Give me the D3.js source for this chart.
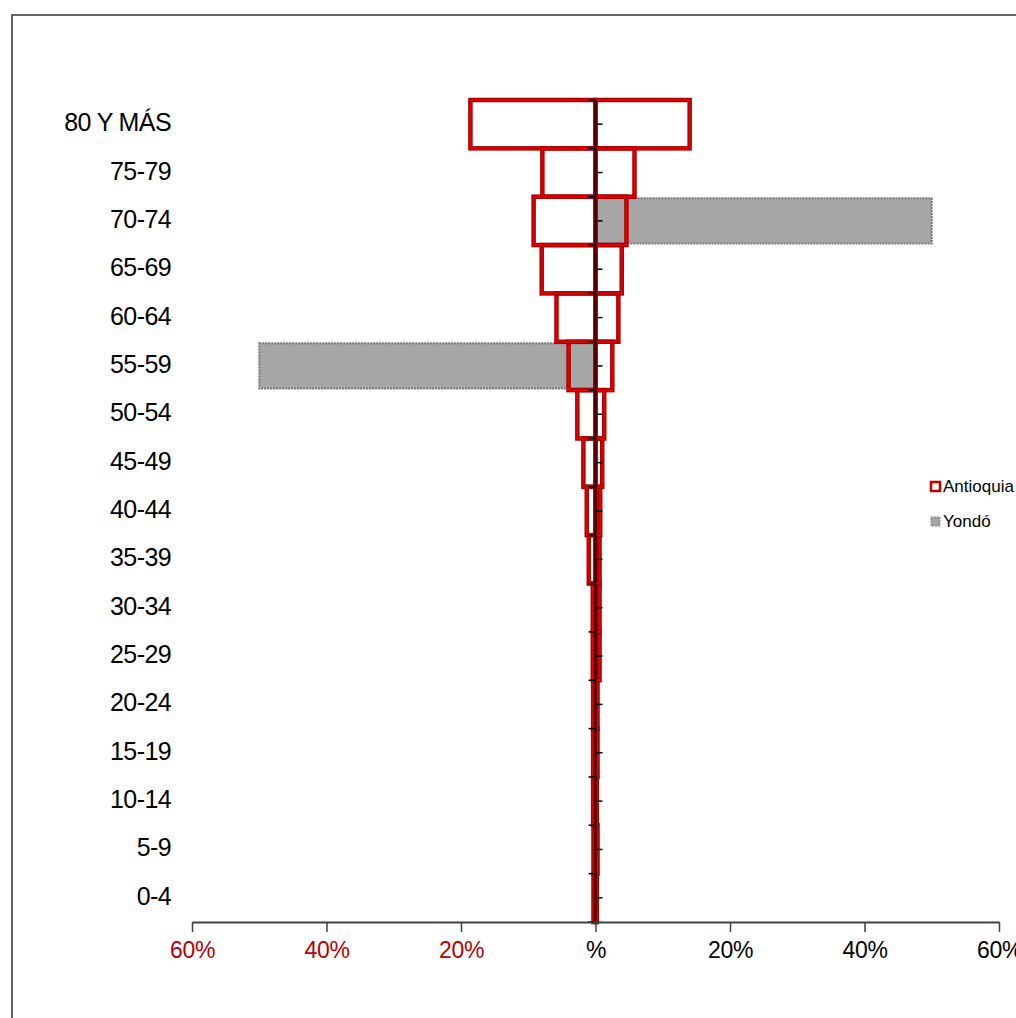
<!DOCTYPE html>
<html>
<head>
<meta charset="utf-8">
<script src="https://cdn.jsdelivr.net/npm/d3@7"></script>
<style>
  html, body { margin: 0; padding: 0; background: #fff; }
  svg { display: block; }
  text { font-family: "Liberation Sans", Arial, sans-serif; }
</style>
</head>
<body>
<svg id="chart" width="1016" height="1018"></svg>
<script>
// ---- Data ----
const categories = ["0-4","5-9","10-14","15-19","20-24","25-29","30-34","35-39","40-44","45-49","50-54","55-59","60-64","65-69","70-74","75-79","80 Y MÁS"];
// Antioquia (red outline), percent – left side and right side
const antioquiaLeft  = [0.3, 0.3, 0.35, 0.35, 0.35, 0.4, 0.4, 1.0, 1.3, 1.8, 2.7, 4.0, 5.8, 8.0, 9.2, 7.9, 18.6];
const antioquiaRight = [0.2, 0.3, 0.2, 0.3, 0.3, 0.6, 0.6, 0.6, 0.7, 1.0, 1.3, 2.5, 3.4, 3.9, 4.6, 5.8, 14.0];
// Yondó (gray), percent
const yondoLeft  = [0,0,0,0,0,0,0,0,0,0,0,50,0,0,0,0,0];
const yondoRight = [0,0,0,0,0,0,0,0,0,0,0,0,0,0,50,0,0];
// Axis ticks
const xTicks = [-60, -40, -20, 0, 20, 40, 60];
const xTickLabels = ["60%", "40%", "20%", "%", "20%", "40%", "60%"];
const seriesNames = ["Antioquia", "Yondó"];

// ---- Layout ----
const svg = d3.select("#chart");
const x = d3.scaleLinear().domain([-60, 60]).range([192, 999]);
const y = d3.scaleBand().domain(categories.slice().reverse()).range([100, 922]).padding(0);

// Frame
svg.append("rect").attr("x", 12).attr("y", 15).attr("width", 1030).attr("height", 1030)
  .attr("fill", "none").attr("stroke", "#333").attr("stroke-width", 1.5);

const rows = categories.map((c, i) => ({
  cat: c, aL: antioquiaLeft[i], aR: antioquiaRight[i], yL: yondoLeft[i], yR: yondoRight[i]
}));

// Yondó gray bars
const gray = svg.append("g");
rows.forEach(d => {
  if (d.yL > 0) gray.append("rect")
    .attr("x", x(-d.yL)).attr("y", y(d.cat) + 1.5)
    .attr("width", x(0) - x(-d.yL)).attr("height", y.bandwidth() - 3)
    .attr("fill", "#A6A6A6").attr("stroke", "#7a7a7a").attr("stroke-width", 2).attr("stroke-dasharray", "2,1");
  if (d.yR > 0) gray.append("rect")
    .attr("x", x(0)).attr("y", y(d.cat) + 1.5)
    .attr("width", x(d.yR) - x(0)).attr("height", y.bandwidth() - 3)
    .attr("fill", "#A6A6A6").attr("stroke", "#7a7a7a").attr("stroke-width", 2).attr("stroke-dasharray", "2,1");
});

// Antioquia outline bars
const red = svg.append("g");
function redRect(x0, x1, cat) {
  red.append("rect").attr("x", x0).attr("y", y(cat)).attr("width", x1 - x0).attr("height", y.bandwidth())
    .attr("fill", "none").attr("stroke", "#A80000").attr("stroke-width", 4.5);
  red.append("rect").attr("x", x0).attr("y", y(cat)).attr("width", x1 - x0).attr("height", y.bandwidth())
    .attr("fill", "none").attr("stroke", "#E60000").attr("stroke-width", 1.8);
}
rows.forEach(d => {
  redRect(x(-d.aL), x(0), d.cat);
  redRect(x(0), x(d.aR), d.cat);
});

// Vertical category axis at zero
const vAxis = svg.append("g");
vAxis.append("line").attr("x1", x(0)).attr("x2", x(0)).attr("y1", 100).attr("y2", 922)
  .attr("stroke", "#000").attr("stroke-width", 2);
const bounds = categories.slice().reverse().map(c => y(c)).concat([922]);
bounds.forEach(b => vAxis.append("line").attr("x1", x(0) - 7).attr("x2", x(0)).attr("y1", b).attr("y2", b)
  .attr("stroke", "#000").attr("stroke-width", 1.5));
categories.forEach(c => {
  const cy = y(c) + y.bandwidth() / 2;
  vAxis.append("line").attr("x1", x(0)).attr("x2", x(0) + 7).attr("y1", cy).attr("y2", cy)
    .attr("stroke", "#000").attr("stroke-width", 1.5);
});

// Category labels
svg.append("g").selectAll("text").data(categories).join("text")
  .attr("x", 171).attr("y", d => y(d) + y.bandwidth() / 2 + 7)
  .attr("text-anchor", "end").attr("font-size", 25).attr("fill", "#000")
  .attr("letter-spacing", -0.6)
  .text(d => d);

// X axis
const xAxisG = svg.append("g").attr("transform", "translate(0,922)");
xAxisG.call(d3.axisBottom(x).tickValues(xTicks).tickSize(10).tickSizeOuter(0).tickFormat((d, i) => xTickLabels[i]));
xAxisG.select(".domain").attr("stroke", "#404040").attr("stroke-width", 2);
xAxisG.selectAll(".tick line").attr("stroke", "#404040").attr("stroke-width", 1.5);
xAxisG.selectAll(".tick text")
  .attr("font-family", "'Liberation Sans', Arial, sans-serif")
  .attr("font-size", 23).attr("dy", 0).attr("y", 36).attr("letter-spacing", -0.3)
  .attr("fill", d => d < 0 ? "#B80000" : "#000");

// Legend
const lg = svg.append("g");
lg.append("rect").attr("x", 931).attr("y", 482).attr("width", 9).attr("height", 9)
  .attr("fill", "#fff").attr("stroke", "#C00000").attr("stroke-width", 2.5);
lg.append("text").attr("x", 943).attr("y", 492).attr("font-size", 17).attr("fill", "#000").text(seriesNames[0]);
lg.append("rect").attr("x", 931).attr("y", 517).attr("width", 9).attr("height", 9)
  .attr("fill", "#A6A6A6").attr("stroke", "#8a8a8a").attr("stroke-width", 1).attr("stroke-dasharray", "2,1");
lg.append("text").attr("x", 943).attr("y", 527).attr("font-size", 17).attr("fill", "#000").text(seriesNames[1]);
</script>
</body>
</html>
